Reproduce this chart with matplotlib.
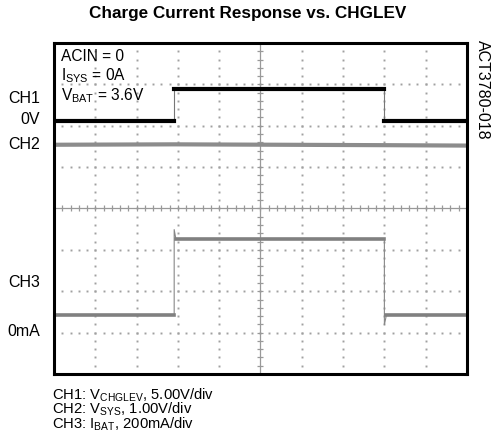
import numpy as np
import matplotlib.pyplot as plt

plt.rcParams['font.family'] = ['Liberation Sans', 'DejaVu Sans']
plt.rcParams['mathtext.default'] = 'regular'

# scope traces, in divisions (x: 0-10, y: 0-8 from bottom)
ch1_t = [0, 2.91, 2.91, 8.0, 8.0, 10]
ch1_y = [6.12, 6.12, 6.89, 6.89, 6.12, 6.12]
ch2_t = [0, 2.91, 8.0, 10]
ch2_y = [5.54, 5.55, 5.53, 5.52]
ch3_t = [0, 2.91, 2.91, 2.95, 8.0, 8.0, 8.05, 10]
ch3_y = [1.43, 1.43, 3.49, 3.27, 3.27, 1.19, 1.43, 1.43]

ch_labels = ['CH1', '0V', 'CH2', 'CH3', '0mA']
ch_label_y = [6.67, 6.14, 5.55, 2.20, 1.02]
cond_lines = ['ACIN = 0', 'I$_{SYS}$ = 0A', 'V$_{BAT}$ = 3.6V']
scale_lines = ['CH1: V$_{CHGLEV}$, 5.00V/div',
               'CH2: V$_{SYS}$, 1.00V/div',
               'CH3: I$_{BAT}$, 200mA/div']

fig = plt.figure(figsize=(4.95, 4.43), dpi=100)
ax = fig.add_axes([0.1091, 0.1558, 0.8343, 0.7472])
ax.set_xlim(0, 10)
ax.set_ylim(0, 8)
ax.set_xticks([])
ax.set_yticks([])
for s in ax.spines.values():
    s.set_linewidth(2.2)
    s.set_color('black')

# dotted graticule
dots = np.arange(0, 10.01, 0.2)
for gy in range(1, 8):
    if gy == 4:
        continue
    ax.plot(dots, np.full_like(dots, gy), ls='none', marker='s', ms=1.4,
            color='#a0a0a0', mew=0)
dots_v = np.arange(0, 8.01, 0.2)
for gx in range(1, 10):
    if gx == 5:
        continue
    ax.plot(np.full_like(dots_v, gx), dots_v, ls='none', marker='s', ms=1.4,
            color='#a0a0a0', mew=0)

# center cross with minor ticks
ax.axhline(4, color='#999999', lw=0.9)
ax.axvline(5, color='#999999', lw=0.9)
ax.plot(dots, np.full_like(dots, 4), ls='none', marker='|', ms=5,
        color='#999999', mew=0.9)
ax.plot(np.full_like(dots_v, 5), dots_v, ls='none', marker='_', ms=5,
        color='#999999', mew=0.9)

# traces: thin transitions first, thick levels on top
ax.plot(ch3_t, ch3_y, color='#888888', lw=0.8)
for i in range(len(ch3_t) - 1):
    if ch3_t[i] != ch3_t[i + 1] and abs(ch3_y[i] - ch3_y[i + 1]) < 0.1:
        ax.plot(ch3_t[i:i + 2], ch3_y[i:i + 2], color='#808080', lw=2.6)
ax.plot(ch2_t, ch2_y, color='#8c8c8c', lw=3.0)
ax.plot(ch1_t, ch1_y, color='#777777', lw=0.8)
for i in range(len(ch1_t) - 1):
    if ch1_t[i] != ch1_t[i + 1]:
        ax.plot(ch1_t[i:i + 2], ch1_y[i:i + 2], color='black', lw=3.0)

# channel labels on the left
for lab, yv in zip(ch_labels, ch_label_y):
    ax.text(-0.34, yv, lab, ha='right', va='center', fontsize=11.5,
            clip_on=False)

# test conditions
for i, line in enumerate(cond_lines):
    ax.text(0.17, 7.67 - i * 0.47, line, ha='left', va='center', fontsize=11.2)

fig.text(0.5, 0.969, 'Charge Current Response vs. CHGLEV', ha='center',
         va='center', fontsize=12.3, fontweight='bold')
fig.text(0.974, 0.797, 'ACT3780-018', ha='center', va='center', fontsize=11.5,
         rotation=-90)

# channel scale notes as one block
fig.text(0.105, 0.075, '\n'.join(scale_lines), ha='left', va='center',
         fontsize=10.6, linespacing=0.8)

fig.savefig('out.png', dpi=100)
